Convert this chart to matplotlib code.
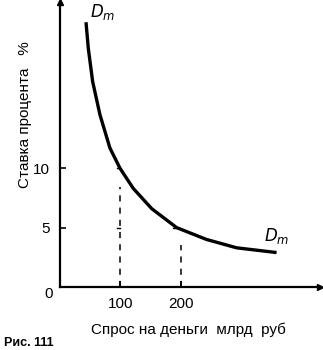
import numpy as np
import matplotlib.pyplot as plt

plt.rcParams['font.family'] = ['Liberation Sans', 'DejaVu Sans']

# demand for money curve
demand_x = [43.0, 46.8, 54.0, 66.1, 82.6, 99.2, 121.2, 151.6, 192.9,
            242.5, 292.1, 358.2]
demand_y = [22.3, 20.1, 17.3, 14.5, 11.7, 10.0, 8.3, 6.6, 5.0,
            4.0, 3.3, 2.9]

x_ticks = [100, 200]
y_ticks = [5, 10]
# dashed guides: x position and top
guides_x = [100, 200]
guides_top = [8.4, 3.5]

fig = plt.figure(figsize=(3.23, 3.5), dpi=100)
ax = fig.add_axes([60 / 323, 63 / 350, 260 / 323, 285 / 350])
ax.set_xlim(0, 430)
ax.set_ylim(0, 24)

for s in ['top', 'right']:
    ax.spines[s].set_visible(False)
for s in ['left', 'bottom']:
    ax.spines[s].set_linewidth(1.6)

# arrow heads
ax.plot(430, 0, marker='>', color='black', markersize=5, clip_on=False)
ax.plot(0, 24, marker='^', color='black', markersize=5, clip_on=False)

ax.plot(demand_x, demand_y, color='black', linewidth=2.4,
        solid_capstyle='butt', solid_joinstyle='round')

for gx, gt in zip(guides_x, guides_top):
    ax.plot([gx, gx], [0, gt], color='black', linewidth=1.1, dashes=(4, 4))
# small marks
ax.plot([94, 100], [5, 5], color='black', linewidth=1.0)
ax.plot([94, 99.2], [10, 10], color='black', linewidth=1.0)
ax.plot([187, 193], [5, 5], color='black', linewidth=1.0)

ax.set_xticks(x_ticks)
ax.set_xticklabels([str(v) for v in x_ticks], fontsize=11)
ax.set_yticks(y_ticks)
ax.set_yticklabels([str(v) for v in y_ticks], fontsize=11)
ax.tick_params(direction='in', length=4, width=1.2, pad=7)

ax.text(-19, -0.6, '0', fontsize=11, ha='center', va='center')

ax.text(70, 23.2, '$D_m$', fontsize=12, ha='center', va='center')
ax.text(358, 4.3, '$D_m$', fontsize=12, ha='center', va='center')

fig.text(25 / 323, 1 - 115 / 350, 'Ставка процента   %', rotation=90,
         fontsize=11, ha='center', va='center')
fig.text(188 / 323, 1 - 330 / 350, 'Спрос на деньги  млрд  руб',
         fontsize=11, ha='center', va='center')
fig.text(4 / 323, 1 / 350, 'Рис. 111', fontsize=9, fontweight='bold',
         ha='left', va='bottom')

fig.savefig('out.png', dpi=100)
